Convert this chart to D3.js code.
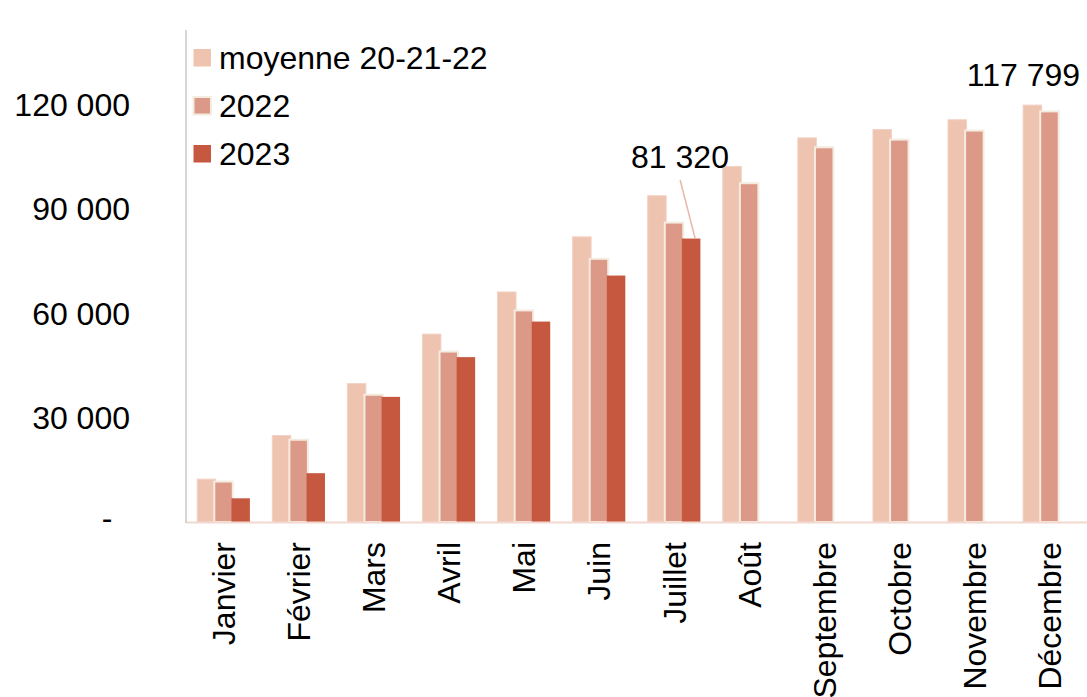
<!DOCTYPE html>
<html>
<head>
<meta charset="utf-8">
<script src="https://cdn.jsdelivr.net/npm/d3@7"></script>
<style>
  html, body { margin: 0; padding: 0; background: #fff; }
  svg { display: block; font-family: "Liberation Sans", Arial, sans-serif; }
</style>
</head>
<body>
<svg id="chart" width="1087" height="697"></svg>
<script>
const months = ["Janvier","Février","Mars","Avril","Mai","Juin","Juillet","Août","Septembre","Octobre","Novembre","Décembre"];
const seriesNames = ["moyenne 20-21-22","2022","2023"];
const moyenne = [12300, 24800, 39700, 53900, 66000, 81800, 93600, 102000, 110200, 112600, 115400, 119600];
const y2022 = [11600, 23600, 36500, 48900, 60700, 75500, 85900, 97200, 107500, 109700, 112300, 117799];
const y2023 = [6800, 14000, 35900, 47300, 57500, 70700, 81320];
const yTicks = [0, 30000, 60000, 90000, 120000];
const colors = ["#EEC3B0", "#DC9988", "#C5583F"];
const seriesValues = [moyenne, y2022, y2023];

const svg = d3.select("#chart");
const pLeft = 186, pRight = 1087, pTop = 34, pBottom = 522;

const x = d3.scaleBand().domain(months).range([pLeft, pRight]).padding(0);
const y = d3.scaleLinear().domain([0, 140000]).range([pBottom, pTop]);
const barW = 18.5;
const xs = d3.scalePoint().domain(seriesNames).range([-17.1, 17.1]);

// bars
seriesNames.forEach((s, si) => {
  const data = seriesValues[si].map((v, i) => ({m: months[i], v}));
  svg.append("g").selectAll("rect").data(data).join("rect")
    .attr("x", d => x(d.m) + x.bandwidth()/2 + xs(s) - barW/2)
    .attr("y", d => y(d.v))
    .attr("width", barW)
    .attr("height", d => y(0) - y(d.v))
    .attr("fill", colors[si])
    .attr("stroke", si === 1 ? "#F4ECE0" : (si === 0 ? "#F2D2C4" : "none"))
    .attr("stroke-width", si === 1 ? 2 : (si === 0 ? 1 : 0));
});

// axes lines
svg.append("line").attr("x1", pLeft).attr("x2", pRight).attr("y1", pBottom + 0.5).attr("y2", pBottom + 0.5)
  .attr("stroke", "#F2D8CF").attr("stroke-width", 2);
svg.append("line").attr("x1", pLeft).attr("x2", pLeft).attr("y1", 30).attr("y2", pBottom + 1)
  .attr("stroke", "#C8C8C8").attr("stroke-width", 1.5);

// y axis labels
const fmt = v => v === 0 ? "-" : d3.format(",")(v).replace(/,/g, " ");
const yAxis = d3.axisLeft(y).tickValues(yTicks).tickFormat(fmt).tickSize(0).tickPadding(0);
const gy = svg.append("g").attr("transform", "translate(130,0)").call(yAxis);
gy.select(".domain").remove();
gy.selectAll("text").attr("font-size", 32).attr("fill", "#000")
  .attr("font-family", "'Liberation Sans', Arial, sans-serif")
  .attr("dy", "0.36em");
gy.selectAll(".tick").filter(d => d === 0).select("text")
  .attr("text-anchor", "middle").attr("x", -23).attr("dy", "0.2em");

// x axis labels
const xAxis = d3.axisBottom(x).tickSize(0).tickPadding(0);
const gx = svg.append("g").attr("transform", `translate(0,${pBottom})`).call(xAxis);
gx.select(".domain").remove();
gx.selectAll("text")
  .attr("font-size", 32).attr("fill", "#000")
  .attr("font-family", "'Liberation Sans', Arial, sans-serif")
  .attr("text-anchor", "end")
  .attr("transform", "translate(0,20) rotate(-90)")
  .attr("x", 0).attr("y", 0).attr("dy", "0.36em");

// legend
const lg = svg.append("g");
seriesNames.forEach((s, i) => {
  const by = 69 + i * 48;
  lg.append("rect").attr("x", 193.5).attr("y", by - 20).attr("width", 17.5).attr("height", 17.5)
    .attr("fill", colors[i])
    .attr("stroke", i === 1 ? "#F4ECE0" : "none").attr("stroke-width", i === 1 ? 2 : 0);
  lg.append("text").attr("x", 219).attr("y", by).attr("font-size", 32).attr("fill", "#000").text(s);
});

// data labels
const julIdx = 6, decIdx = 11;
const julX = x(months[julIdx]) + x.bandwidth()/2 + xs(seriesNames[2]);
svg.append("line")
  .attr("x1", julX - 11).attr("y1", 180)
  .attr("x2", julX + 4).attr("y2", y(y2023[julIdx]))
  .attr("stroke", "#E8B8A8").attr("stroke-width", 1.5);
svg.append("text").attr("x", 680).attr("y", 168).attr("text-anchor", "middle")
  .attr("font-size", 32).attr("fill", "#000").text(fmt(y2023[julIdx]));
svg.append("text").attr("x", 1023.5).attr("y", 86).attr("text-anchor", "middle")
  .attr("font-size", 32).attr("fill", "#000").text(fmt(y2022[decIdx]));
</script>
</body>
</html>
